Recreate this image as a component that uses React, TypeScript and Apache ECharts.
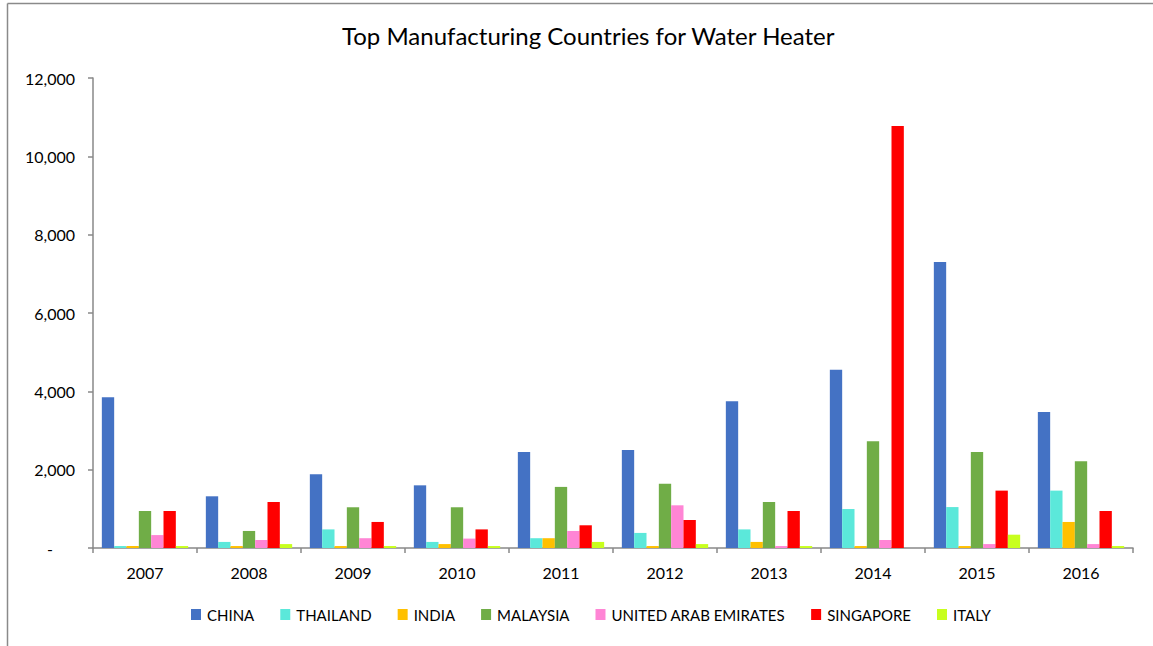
import React, { useEffect, useRef } from "react";
import * as echarts from "echarts";

const years = ["2007", "2008", "2009", "2010", "2011", "2012", "2013", "2014", "2015", "2016"];
const seriesNames = ["CHINA", "THAILAND", "INDIA", "MALAYSIA", "UNITED ARAB EMIRATES", "SINGAPORE", "ITALY"];
const china = [3850, 1320, 1880, 1600, 2450, 2500, 3750, 4550, 7300, 3470];
const thailand = [50, 155, 475, 155, 250, 385, 475, 995, 1045, 1465];
const india = [50, 50, 50, 100, 250, 50, 155, 50, 50, 665];
const malaysia = [945, 435, 1040, 1040, 1560, 1640, 1175, 2725, 2450, 2215];
const uae = [330, 205, 250, 240, 435, 1090, 50, 205, 100, 100];
const singapore = [945, 1175, 665, 475, 580, 715, 945, 10775, 1465, 945];
const italy = [50, 100, 50, 50, 155, 100, 50, 0, 340, 50];
const colors = ["#4472C4", "#5BE8DA", "#FFC000", "#70AD47", "#FF85D5", "#FF0000", "#C8FF1E"];

const FONT = "Lato, 'Liberation Sans', sans-serif";

export default function App() {
  const ref = useRef<HTMLDivElement>(null);
  useEffect(() => {
    if (!ref.current) return;
    const chart = echarts.init(ref.current, null, { renderer: "svg" });
    const data = [china, thailand, india, malaysia, uae, singapore, italy];
    chart.setOption({
      animation: false,
      backgroundColor: "#ffffff",
      textStyle: { fontFamily: FONT },
      title: {
        text: "Top Manufacturing Countries for Water Heater",
        left: 337,
        top: 18,
        textStyle: { fontFamily: FONT, fontSize: 24, fontWeight: "normal", color: "#000" },
      },
      legend: {
        left: 186,
        top: 602,
        itemWidth: 10,
        itemHeight: 11,
        itemGap: 26,
        icon: "rect",
        textStyle: { fontFamily: FONT, fontSize: 15, color: "#000", padding: [0, 0, 0, 1] },
        data: seriesNames,
      },
      grid: { left: 93, top: 78, width: 1040, height: 470, containLabel: false },
      xAxis: {
        type: "category",
        data: years,
        axisLine: { lineStyle: { color: "#888888", width: 1.5 } },
        axisTick: { show: true, length: 5, inside: false, alignWithLabel: false, lineStyle: { color: "#888888", width: 1.5 } },
        axisLabel: { fontFamily: FONT, fontSize: 16, color: "#000", margin: 16 },
      },
      yAxis: {
        type: "value",
        min: 0,
        max: 12000,
        interval: 2000,
        axisLine: { show: true, lineStyle: { color: "#888888", width: 1.5 } },
        axisTick: { show: true, length: 5, lineStyle: { color: "#888888", width: 1.5 } },
        splitLine: { show: false },
        axisLabel: {
          fontFamily: FONT,
          fontSize: 16,
          color: "#000",
          margin: 18,
          formatter: (v: number) =>
            v === 0 ? "{d|-}" : v.toLocaleString("en-US"),
          rich: { d: { fontFamily: FONT, fontSize: 16, color: "#000", padding: [0, 22, 0, 0] } },
        },
      },
      graphic: [
        { type: "line", shape: { x1: 7.5, y1: 3.5, x2: 7.5, y2: 646 }, style: { stroke: "#8a8a8a", lineWidth: 1.5 } },
        { type: "line", shape: { x1: 7.5, y1: 3.5, x2: 1153, y2: 3.5 }, style: { stroke: "#8a8a8a", lineWidth: 1.5 } },
      ],
      series: seriesNames.map((name, i) => ({
        name,
        type: "bar",
        data: data[i],
        barGap: "0%",
        barCategoryGap: "17%",
        itemStyle: { color: colors[i] },
      })),
    });
    return () => chart.dispose();
  }, []);
  return (
    <div
      ref={ref}
      style={{ position: "fixed", left: 0, top: 0, width: 1153, height: 646, background: "#fff" }}
    />
  );
}
